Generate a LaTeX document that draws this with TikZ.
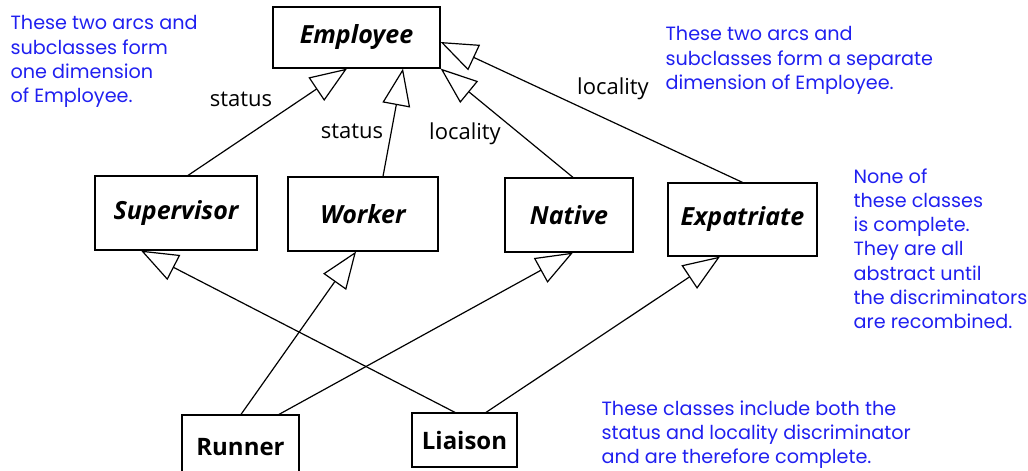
\documentclass[tikz,border=0pt]{standalone}
\usepackage{fontspec}
\setmainfont{Open Sans}
\newfontfamily\notefont{Poppins}
\usetikzlibrary{arrows.meta}
\definecolor{noteblue}{RGB}{32,32,240}

\begin{document}
\begin{tikzpicture}[x=1pt,y=-1pt,line width=1.2pt,
  cls/.style={draw,inner sep=0pt,font=\fontsize{25}{29}\selectfont\bfseries\itshape},
  leaf/.style={draw,inner sep=0pt,font=\fontsize{24}{28}\selectfont\bfseries},
  isa/.style={-{Triangle[open,length=37pt,width=28pt]}},
  disc/.style={inner sep=0pt,font=\fontsize{22}{26}\selectfont},
  note/.style={anchor=north west,align=left,inner sep=0pt,text=noteblue,
    font=\notefont\fontsize{19.2}{24.2}\selectfont}]
  \useasboundingbox (0,0) rectangle (1028,471);
  % classes
  \node[cls,minimum width=167pt,minimum height=61pt] (employee) at (356.5,37.5) {Employee};
  \node[cls,minimum width=162pt,minimum height=74pt] (supervisor) at (176,213) {Supervisor};
  \node[cls,minimum width=150pt,minimum height=74pt] (worker) at (363,214) {Worker};
  \node[cls,minimum width=128pt,minimum height=74pt] (native) at (569,215) {Native};
  \node[cls,minimum width=149pt,minimum height=73pt] (expatriate) at (742.5,219.5) {Expatriate};
  \node[leaf,minimum width=117pt,minimum height=64pt] (runner) at (240.5,447) {Runner};
  \node[leaf,minimum width=105pt,minimum height=54pt] (liaison) at (464.5,440) {Liaison};
  % generalisation arcs
  \draw[isa] ([xshift=12pt]supervisor.north) -- ([xshift=-9.5pt]employee.south);
  \draw[isa] ([xshift=20pt]worker.north) -- ([xshift=46.5pt]employee.south);
  \draw[isa] ([xshift=4pt]native.north) -- (employee.south east);
  \draw[isa] (expatriate.north) -- ([yshift=-4.5pt]employee.east);
  \draw[isa] ([xshift=0.5pt]runner.north) -- ([xshift=-7pt]worker.south);
  \draw[isa] ([xshift=38.5pt]runner.north) -- ([xshift=4pt]native.south);
  \draw[isa] ([xshift=-9.5pt]liaison.north) -- ([xshift=-35pt]supervisor.south);
  \draw[isa] ([xshift=21.5pt]liaison.north) -- ([xshift=-22.5pt]expatriate.south);
  % discriminators
  \node[disc] (statusa) at (241,99) {status};
  \node[disc] (statusb) at (352,131) {status};
  \node[disc] (localitya) at (465,134) {locality};
  \node[disc] (localityb) at (613,89) {locality};
  % notes
  \node[note] (noteleft) at (10,15) {These two arcs and\\subclasses form\\one dimension\\of Employee.};
  \node[note] (noteright) at (665,26) {These two arcs and\\subclasses form a separate\\dimension of Employee.};
  \node[note] (noteabstract) at (853,168) {None of\\these classes\\is complete.\\They are all\\abstract until\\the discriminators\\are recombined.};
  \node[note] (notecomplete) at (601,400) {These classes include both the\\status and locality discriminator\\and are therefore complete.};
\end{tikzpicture}
\end{document}
